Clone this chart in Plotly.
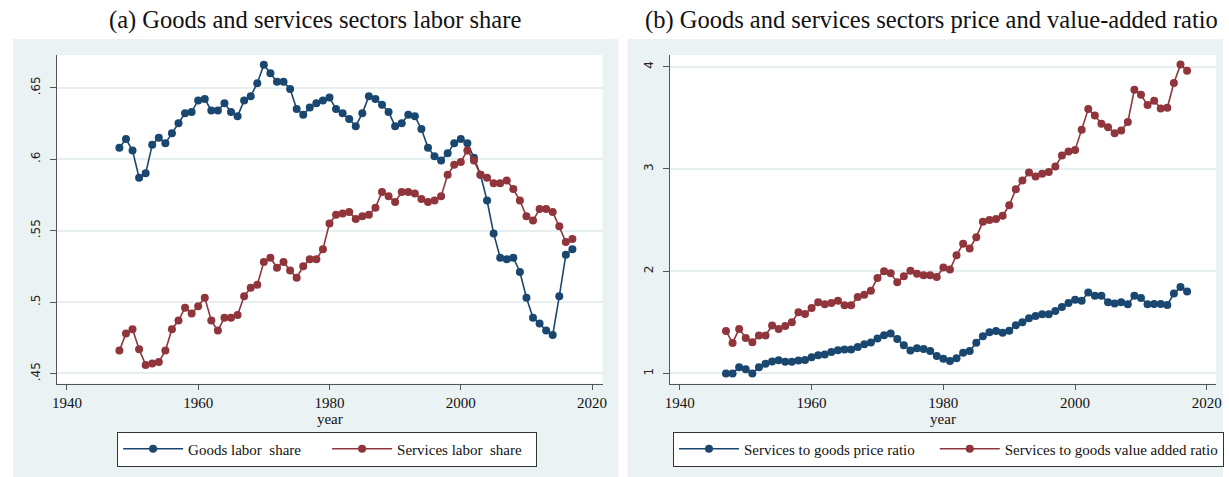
import plotly.graph_objects as go

# ---- data -------------------------------------------------------------
years_a = list(range(1948, 2018))
goods_labor_share = [
    0.608, 0.614, 0.606, 0.587, 0.590, 0.610, 0.615, 0.611, 0.618, 0.625,
    0.632, 0.633, 0.641, 0.642, 0.634, 0.634, 0.639, 0.633, 0.630, 0.641,
    0.644, 0.653, 0.666, 0.660, 0.654, 0.654, 0.649, 0.635, 0.631, 0.636,
    0.639, 0.641, 0.643, 0.635, 0.632, 0.628, 0.623, 0.632, 0.644, 0.642,
    0.638, 0.633, 0.623, 0.625, 0.631, 0.630, 0.621, 0.608, 0.602, 0.599,
    0.604, 0.611, 0.614, 0.611, 0.601, 0.589, 0.571, 0.548, 0.531, 0.530,
    0.531, 0.521, 0.503, 0.489, 0.485, 0.480, 0.477, 0.504, 0.533, 0.537,
]
services_labor_share = [
    0.466, 0.478, 0.481, 0.467, 0.456, 0.457, 0.458, 0.466, 0.481, 0.487,
    0.496, 0.492, 0.497, 0.503, 0.487, 0.480, 0.489, 0.489, 0.491, 0.504,
    0.510, 0.512, 0.528, 0.531, 0.524, 0.528, 0.522, 0.517, 0.525, 0.530,
    0.530, 0.537, 0.555, 0.561, 0.562, 0.563, 0.558, 0.560, 0.561, 0.566,
    0.577, 0.574, 0.570, 0.577, 0.577, 0.576, 0.572, 0.570, 0.571, 0.574,
    0.589, 0.596, 0.598, 0.606, 0.599, 0.589, 0.587, 0.583, 0.583, 0.585,
    0.579, 0.571, 0.560, 0.557, 0.565, 0.565, 0.563, 0.553, 0.542, 0.544,
]

years_b = list(range(1947, 2018))
price_ratio = [
    1.000, 1.000, 1.062, 1.042, 1.000, 1.062, 1.094, 1.117, 1.130, 1.114,
    1.114, 1.127, 1.133, 1.159, 1.179, 1.185, 1.211, 1.227, 1.234, 1.234,
    1.260, 1.286, 1.302, 1.341, 1.374, 1.390, 1.338, 1.276, 1.224, 1.246,
    1.240, 1.220, 1.170, 1.144, 1.121, 1.150, 1.203, 1.219, 1.301, 1.363,
    1.402, 1.415, 1.399, 1.418, 1.471, 1.500, 1.539, 1.562, 1.578, 1.578,
    1.611, 1.650, 1.690, 1.722, 1.712, 1.791, 1.761, 1.761, 1.696, 1.683,
    1.696, 1.676, 1.761, 1.739, 1.676, 1.680, 1.680, 1.670, 1.781, 1.846,
    1.801,
]
value_added_ratio = [
    1.416, 1.299, 1.436, 1.348, 1.306, 1.371, 1.371, 1.468, 1.436, 1.465,
    1.501, 1.598, 1.582, 1.641, 1.696, 1.677, 1.689, 1.712, 1.667, 1.667,
    1.748, 1.771, 1.810, 1.934, 1.999, 1.979, 1.891, 1.950, 2.005, 1.976,
    1.960, 1.960, 1.943, 2.036, 2.016, 2.157, 2.268, 2.222, 2.333, 2.484,
    2.500, 2.510, 2.542, 2.644, 2.801, 2.886, 2.964, 2.925, 2.954, 2.971,
    3.023, 3.131, 3.170, 3.186, 3.382, 3.585, 3.523, 3.441, 3.408, 3.350,
    3.376, 3.458, 3.775, 3.725, 3.624, 3.667, 3.592, 3.598, 3.840, 4.020,
    3.961,
]

x_ticks = [1940, 1960, 1980, 2000, 2020]
share_ticks = [0.45, 0.50, 0.55, 0.60, 0.65]
share_tick_text = [".45", ".5", ".55", ".6", ".65"]
ratio_ticks = [1, 2, 3, 4]
ratio_tick_text = ["1", "2", "3", "4"]

title_a = "(a) Goods and services sectors labor share"
title_b = "(b) Goods and services sectors price and value-added ratio"

# ---- styling ----------------------------------------------------------
W, H = 1229, 477
NAVY = "#1A476F"
MAROON = "#90353B"
PANEL_BG = "#EAF2F3"
GRID = "#E6EEF0"
AXIS = "#555555"
SERIF = "Liberation Serif"
SANS = "DejaVu Sans"
NBSP = "\u00a0"


def px_x(p):
    return p / W


def px_y(p):
    return 1 - p / H


# subplot rectangles in pixels: (left, top, right, bottom)
box_a = (52.5, 55, 603, 383.5)
box_b = (671, 55, 1222, 383.5)

fig = go.Figure()


def add_series(x, y, name, color, xa, ya, legend):
    fig.add_trace(go.Scatter(
        x=x, y=y, name=name, mode="lines+markers",
        line=dict(color=color, width=1.6),
        marker=dict(color=color, size=8, symbol="circle"),
        xaxis=xa, yaxis=ya, legend=legend,
    ))


add_series(years_a, goods_labor_share, "Goods labor" + NBSP + " share", NAVY, "x", "y", "legend")
add_series(years_a, services_labor_share, "Services labor" + NBSP + " share", MAROON, "x", "y", "legend")
# trailing spaces widen the gap between the two entries of the second legend
add_series(years_b, price_ratio, "Services to goods price ratio" + NBSP * 4, NAVY, "x2", "y2", "legend2")
add_series(years_b, value_added_ratio, "Services to goods value added ratio", MAROON, "x2", "y2", "legend2")

xaxis_common = dict(
    tickvals=x_ticks, ticks="outside", ticklen=5, tickcolor=AXIS, tickwidth=1,
    showline=True, linecolor=AXIS, linewidth=1, showgrid=False, zeroline=False,
    tickfont=dict(family=SERIF, size=15, color="#111111"),
    title=dict(text="year", font=dict(family=SERIF, size=15, color="#111111"), standoff=2),
)
yaxis_common = dict(
    ticks="outside", ticklen=6, tickcolor=AXIS, tickwidth=1, tickangle=-90,
    ticklabelstandoff=5,
    showline=True, linecolor=AXIS, linewidth=1, showgrid=True, gridcolor=GRID,
    gridwidth=2, zeroline=False,
    tickfont=dict(family=SANS, size=12, color="#222222"),
)
legend_common = dict(
    orientation="h", yanchor="middle", xanchor="center", y=px_y(449),
    bgcolor="white", bordercolor="#333333", borderwidth=1,
    itemwidth=60,
    font=dict(family=SERIF, size=15, color="#111111"),
)

fig.update_layout(
    width=W, height=H,
    margin=dict(l=0, r=0, t=0, b=0),
    paper_bgcolor="white",
    plot_bgcolor="rgba(0,0,0,0)",
    xaxis=dict(xaxis_common, domain=[px_x(box_a[0]), px_x(box_a[2])],
               range=[1938.5, 2021.6], anchor="y"),
    yaxis=dict(yaxis_common, domain=[px_y(box_a[3]), px_y(box_a[1])],
               range=[0.443, 0.6728], tickvals=share_ticks,
               ticktext=share_tick_text, anchor="x"),
    xaxis2=dict(xaxis_common, domain=[px_x(box_b[0]), px_x(box_b[2])],
                range=[1938.5, 2021.4], anchor="y2"),
    yaxis2=dict(yaxis_common, domain=[px_y(box_b[3]), px_y(box_b[1])],
                range=[0.902, 4.114], tickvals=ratio_ticks,
                ticktext=ratio_tick_text, anchor="x2"),
    showlegend=True,
    legend=dict(legend_common, x=px_x(325), entrywidth=134, entrywidthmode="pixels"),
    legend2=dict(legend_common, x=px_x(952)),
)

# panel backgrounds and white plot regions
shapes = []
for (l, r) in [(8, 619), (628, 1229)]:
    shapes.append(dict(type="rect", xref="paper", yref="paper",
                       x0=px_x(l), x1=px_x(r), y0=0, y1=px_y(39),
                       fillcolor=PANEL_BG, line=dict(width=0), layer="below"))
for (l, t, r, b) in [box_a, box_b]:
    shapes.append(dict(type="rect", xref="paper", yref="paper",
                       x0=px_x(l), x1=px_x(r), y0=px_y(b), y1=px_y(t),
                       fillcolor="white", line=dict(width=0), layer="below"))
fig.update_layout(shapes=shapes)

# panel titles
for text, cx in [(title_a, 313), (title_b, 935)]:
    fig.add_annotation(text=text, xref="paper", yref="paper",
                       x=px_x(cx), y=px_y(20), xanchor="center", yanchor="middle",
                       showarrow=False, font=dict(family=SERIF, size=24.5, color="#111111"))

fig.write_html("out.html")
